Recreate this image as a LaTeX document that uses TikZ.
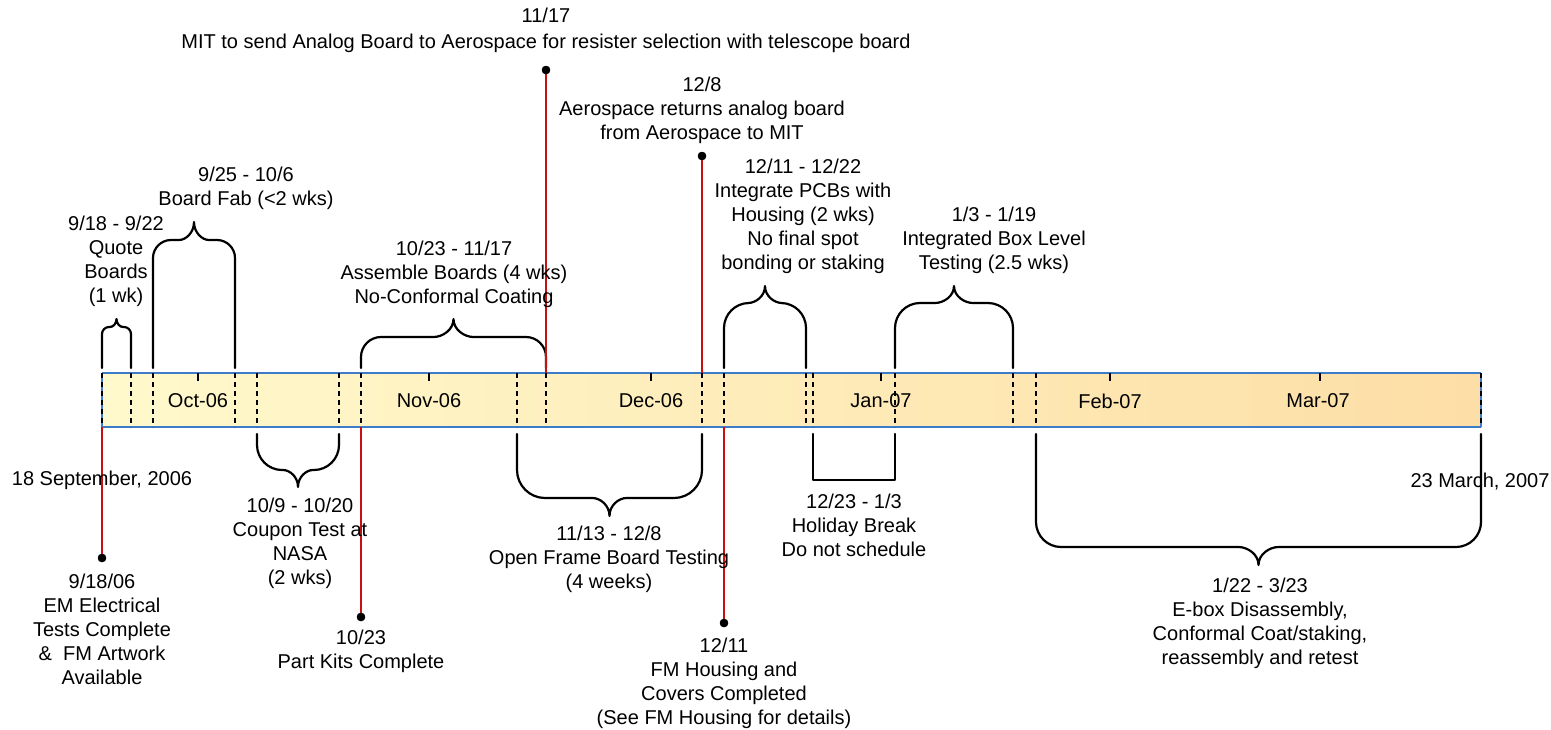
\documentclass[tikz,border=0pt]{standalone}
\usepackage{fontspec}
\setmainfont{Liberation Sans}
\begin{document}
\begin{tikzpicture}[x=0.5pt,y=-0.5pt,
  txt/.style={align=center,inner sep=0pt,font=\fontsize{10pt}{12pt}\selectfont},
  bracestyle/.style={line width=1.1pt,line join=round,line cap=round},
  dashln/.style={line width=0.75pt,dash pattern=on 2.5pt off 2pt},
  mtick/.style={line width=0.6pt},
  redline/.style={line width=0.75pt,draw=milered},
  mdot/.style={circle,fill=black,inner sep=0pt,minimum size=4.2pt}]
\definecolor{milered}{HTML}{C81010}
\definecolor{barblue}{HTML}{3C7CC8}
\definecolor{barleft}{HTML}{FFF9CC}
\definecolor{barright}{HTML}{FDDEA6}
\useasboundingbox (0,0) rectangle (1551,729);

\newcommand{\ubrace}[7]{%
 \pgfmathsetmacro\bc{(#1+#2)/2}%
 \pgfmathsetmacro\bh{#4-#5}%
 \draw[bracestyle] (#1,#3) -- (#1,#4+#6) .. controls (#1,#4+0.45*#6) and (#1+0.45*#6,#4) .. (#1+#6,#4) -- (\bc-#7,#4) .. controls (\bc-0.55*#7,#4) and (\bc,#4-0.4*\bh) .. (\bc,#5) .. controls (\bc,#4-0.4*\bh) and (\bc+0.55*#7,#4) .. (\bc+#7,#4) -- (#2-#6,#4) .. controls (#2-0.45*#6,#4) and (#2,#4+0.45*#6) .. (#2,#4+#6) -- (#2,#3);}
\newcommand{\dbrace}[7]{%
 \pgfmathsetmacro\bc{(#1+#2)/2}%
 \pgfmathsetmacro\bh{#5-#4}%
 \draw[bracestyle] (#1,#3) -- (#1,#4-#6) .. controls (#1,#4-0.45*#6) and (#1+0.45*#6,#4) .. (#1+#6,#4) -- (\bc-#7,#4) .. controls (\bc-0.55*#7,#4) and (\bc,#4+0.4*\bh) .. (\bc,#5) .. controls (\bc,#4+0.4*\bh) and (\bc+0.55*#7,#4) .. (\bc+#7,#4) -- (#2-#6,#4) .. controls (#2-0.45*#6,#4) and (#2,#4-0.45*#6) .. (#2,#4-#6) -- (#2,#3);}

% timeline bar
\shade[left color=barleft,right color=barright] (102,373) rectangle (1481,427);
\node[draw=none,fill=none,inner sep=0pt,minimum width=689.5pt,minimum height=27pt] (bar) at (791.5,400) {};
\draw[barblue,line width=0.6pt] (102,373) -- (1481,373);
\draw[barblue,line width=0.6pt] (102,427) -- (1481,427);
\draw[barblue,line width=0.6pt] (102,373) -- (102,427);
\draw[barblue,line width=0.6pt] (1481,373) -- (1481,427);
\foreach \xx in {102,131,153,235,257,339,361,517,546,702,724,806,813,895,1013,1036,1481}
  \draw[dashln] (\xx,373) -- (\xx,427);
\foreach \xx in {198,429,651,881,1110,1320}
  \draw[mtick] (\xx,373) -- (\xx,381);
\node[txt] (mOct) at (198,401) {Oct-06};
\node[txt] (mNov) at (429,401) {Nov-06};
\node[txt] (mDec) at (651,401) {Dec-06};
\node[txt] (mJan) at (881,401) {Jan-07};
\node[txt] (mFeb) at (1110,401) {Feb-07};
\node[txt] (mMar) at (1318,401) {Mar-07};

% braces above
\ubrace{102}{131}{368}{327}{319}{7}{6.5}
\ubrace{153}{235}{368}{240}{222}{18}{15}
\ubrace{361}{546}{368}{337}{319}{20}{20}
\ubrace{724}{806}{368}{303}{286}{25}{17}
\ubrace{895}{1013}{368}{303}{286}{25}{19}
% braces below
\dbrace{257}{339}{434}{470}{487}{25}{15}
\dbrace{517}{702}{434}{498}{516}{28}{17}
\dbrace{1036}{1481}{434}{547}{565}{25}{20}
\draw[bracestyle] (813,434) -- (813,480) -- (895,480) -- (895,434);

% milestones
\coordinate (b1) at (102,427);
\coordinate (b2) at (361,427);
\coordinate (b3) at (546,373);
\coordinate (b4) at (702,373);
\coordinate (b5) at (724,427);
\node[mdot] (d1) at (102,558) {};
\node[mdot] (d2) at (361,617) {};
\node[mdot] (d3) at (546,70) {};
\node[mdot] (d4) at (702,156) {};
\node[mdot] (d5) at (724,623) {};
\draw[redline] (b1) -- (d1.center);
\draw[redline] (b2) -- (d2.center);
\draw[redline] (b3) -- (d3.center);
\draw[redline] (b4) -- (d4.center);
\draw[redline] (b5) -- (d5.center);
\node[mdot] at (d1) {};
\node[mdot] at (d2) {};
\node[mdot] at (d3) {};
\node[mdot] at (d4) {};
\node[mdot] at (d5) {};

% texts
\node[txt] (t1) at (546,30) {11/17\\[1pt]MIT to send Analog Board to Aerospace for resister selection with telescope board};
\node[txt] (t2) at (702,110) {12/8\\Aerospace returns analog board\\from Aerospace to MIT};
\node[txt] (t3) at (246,188) {9/25 - 10/6\\Board Fab (<2 wks)};
\node[txt] (t4) at (116,261) {9/18 - 9/22\\Quote\\Boards\\(1 wk)};
\node[txt] (t5) at (454,274) {10/23 - 11/17\\Assemble Boards (4 wks)\\No-Conformal Coating};
\node[txt] (t6) at (803,216) {12/11 - 12/22\\Integrate PCBs with\\Housing (2 wks)\\No final spot\\bonding or staking};
\node[txt] (t7) at (994,240) {1/3 - 1/19\\Integrated Box Level\\Testing (2.5 wks)};
\node[txt] (t8) at (102,480) {18 September, 2006};
\node[txt] (t9) at (1480,482) {23 March, 2007};
\node[txt] (t10) at (300,543) {10/9 - 10/20\\Coupon Test at\\NASA\\(2 wks)};
\node[txt] (t11) at (102,629) {9/18/06\\EM Electrical\\Tests Complete\\\&\ \ FM Artwork\\Available};
\node[txt] (t12) at (361,651) {10/23\\Part Kits Complete};
\node[txt] (t13) at (609,559) {11/13 - 12/8\\Open Frame Board Testing\\(4 weeks)};
\node[txt] (t14) at (724,683) {12/11\\FM Housing and\\Covers Completed\\(See FM Housing for details)};
\node[txt] (t15) at (854,525) {12/23 - 1/3\\Holiday Break\\Do not schedule};
\node[txt] (t16) at (1260,623) {1/22 - 3/23\\E-box Disassembly,\\Conformal Coat/staking,\\reassembly and retest};
\end{tikzpicture}
\end{document}
